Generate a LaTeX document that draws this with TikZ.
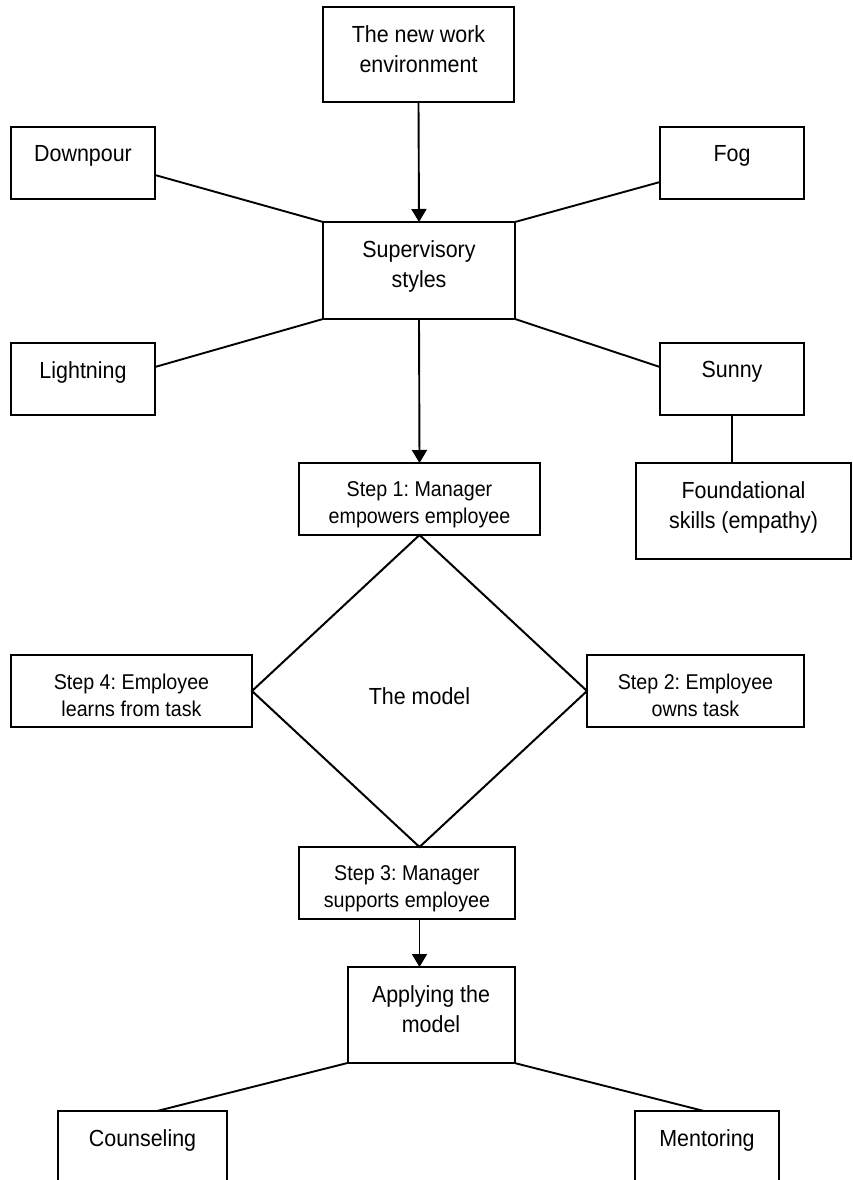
\documentclass[tikz,border=0pt]{standalone}
\usepackage{fontspec}
\setmainfont{Liberation Sans}[FakeStretch=0.92]
\usetikzlibrary{shapes.geometric,arrows.meta,calc}
\frenchspacing
\newcommand{\mainsz}{\fontsize{23.3}{29.5}\selectfont}
\newcommand{\stepsz}{\fontsize{21.4}{27}\selectfont}
\tikzset{
  box/.style={draw, line width=2pt, outer sep=0pt, inner sep=0pt},
  lbl/.style={anchor=north, yshift=-18.5pt, align=center, inner sep=0pt},
  mt/.style={label={[lbl, font=\mainsz]north:{#1}}},
  st/.style={label={[lbl, font=\stepsz]north:{#1}}},
  conn/.style={line width=1.9pt},
  arr/.style={line width=1.9pt, -{Triangle[length=13pt,width=15pt]}}
}
\begin{document}
\begin{tikzpicture}[x=1pt,y=-1pt]
\useasboundingbox (0,0) rectangle (853,1180);
\clip (0,0) rectangle (853,1180);
\fill[white] (0,0) rectangle (853,1180);
% boxes
\node[box, minimum width=191pt, minimum height=95pt, mt={The new work\\environment}] (env) at (418.5,54.5) {};
\node[box, minimum width=144pt, minimum height=72pt, mt={Downpour}] (down) at (83,163) {};
\node[box, minimum width=144pt, minimum height=72pt, mt={Fog}] (fog) at (732,163) {};
\node[box, minimum width=192pt, minimum height=97pt, mt={Supervisory\\styles}] (sup) at (419,270.5) {};
\node[box, minimum width=144pt, minimum height=72pt, mt={Lightning}] (light) at (83,379) {};
\node[box, minimum width=144pt, minimum height=72pt, mt={Sunny}] (sunny) at (732,379) {};
\node[box, minimum width=241pt, minimum height=72pt, st={Step 1: Manager\\empowers employee}] (step1) at (419.5,499) {};
\node[box, minimum width=215pt, minimum height=96pt, mt={Foundational\\skills (empathy)}] (found) at (743.5,511) {};
\node[box, diamond, minimum width=335pt, minimum height=312pt, label={[font=\mainsz, yshift=-5pt]center:The model}] (model) at (419.5,691) {};
\node[box, minimum width=241pt, minimum height=72pt, st={Step 4: Employee\\learns from task}] (step4) at (131.5,691) {};
\node[box, minimum width=217pt, minimum height=72pt, st={Step 2: Employee\\owns task}] (step2) at (695.5,691) {};
\node[box, minimum width=216pt, minimum height=72pt, st={Step 3: Manager\\supports employee}] (step3) at (407,883) {};
\node[box, minimum width=167pt, minimum height=96pt, mt={Applying the\\model}] (apply) at (431,1015) {};
\node[box, minimum width=169pt, minimum height=150pt, mt={Counseling}] (couns) at (142.5,1186) {};
\node[box, minimum width=144pt, minimum height=150pt, mt={Mentoring}] (ment) at (707,1186) {};
% connectors
\draw[arr] (env.south) -- (sup.north);
\draw[conn] ([yshift=-12pt]down.east) -- (sup.north west);
\draw[conn] ([yshift=-19pt]fog.west) -- (sup.north east);
\draw[conn] ([yshift=12pt]light.east) -- (sup.south west);
\draw[conn] ([yshift=12pt]sunny.west) -- (sup.south east);
\draw[arr] (sup.south) -- (step1.north);
\draw[conn] (sunny.south) -- (sunny.south |- found.north);
\draw[arr] (model.south |- step3.south) -- (model.south |- apply.north);
\draw[conn] (apply.south west) -- ([xshift=14.5pt]couns.north);
\draw[conn] (apply.south east) -- ([xshift=-3pt]ment.north);
\end{tikzpicture}
\end{document}
